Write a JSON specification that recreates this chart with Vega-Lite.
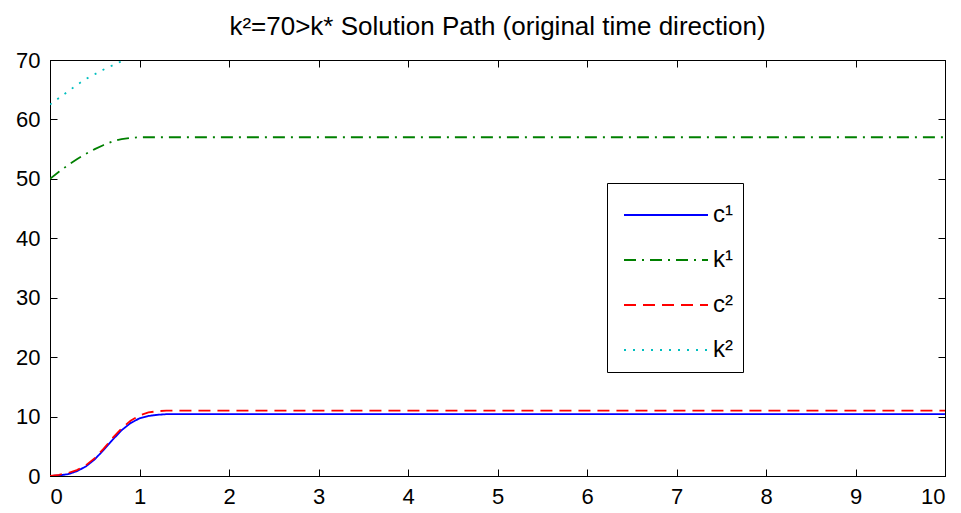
{
  "$schema": "https://vega.github.io/schema/vega-lite/v6.json",
  "width": 895,
  "height": 416,
  "autosize": "none",
  "padding": {"left": 50, "top": 60, "right": 16, "bottom": 37},
  "background": "white",
  "title": {
    "text": "k²=70>k* Solution Path (original time direction)",
    "font": "Liberation Sans",
    "fontSize": 26,
    "fontWeight": "normal",
    "color": "black",
    "anchor": "middle",
    "baseline": "alphabetic",
    "offset": -12
  },
  "data": {
    "values": [
      {"t": 0, "v": 0, "s": "c¹"},
      {"t": 0.1, "v": 0.1, "s": "c¹"},
      {"t": 0.2, "v": 0.3, "s": "c¹"},
      {"t": 0.3, "v": 0.8, "s": "c¹"},
      {"t": 0.4, "v": 1.6, "s": "c¹"},
      {"t": 0.5, "v": 2.8, "s": "c¹"},
      {"t": 0.6, "v": 4.4, "s": "c¹"},
      {"t": 0.7, "v": 6.1, "s": "c¹"},
      {"t": 0.8, "v": 7.7, "s": "c¹"},
      {"t": 0.9, "v": 8.9, "s": "c¹"},
      {"t": 1.0, "v": 9.7, "s": "c¹"},
      {"t": 1.1, "v": 10.1, "s": "c¹"},
      {"t": 1.2, "v": 10.3, "s": "c¹"},
      {"t": 1.3, "v": 10.4, "s": "c¹"},
      {"t": 10, "v": 10.4, "s": "c¹"},
      {"t": 0, "v": 50, "s": "k¹"},
      {"t": 0.1, "v": 51.2, "s": "k¹"},
      {"t": 0.2, "v": 52.3, "s": "k¹"},
      {"t": 0.3, "v": 53.3, "s": "k¹"},
      {"t": 0.4, "v": 54.2, "s": "k¹"},
      {"t": 0.5, "v": 55.0, "s": "k¹"},
      {"t": 0.6, "v": 55.7, "s": "k¹"},
      {"t": 0.7, "v": 56.3, "s": "k¹"},
      {"t": 0.8, "v": 56.7, "s": "k¹"},
      {"t": 0.9, "v": 56.9, "s": "k¹"},
      {"t": 1.0, "v": 57.0, "s": "k¹"},
      {"t": 10, "v": 57.0, "s": "k¹"},
      {"t": 0, "v": 0, "s": "c²"},
      {"t": 0.1, "v": 0.2, "s": "c²"},
      {"t": 0.2, "v": 0.5, "s": "c²"},
      {"t": 0.3, "v": 1.0, "s": "c²"},
      {"t": 0.4, "v": 1.8, "s": "c²"},
      {"t": 0.5, "v": 3.0, "s": "c²"},
      {"t": 0.6, "v": 4.6, "s": "c²"},
      {"t": 0.7, "v": 6.4, "s": "c²"},
      {"t": 0.8, "v": 8.0, "s": "c²"},
      {"t": 0.9, "v": 9.3, "s": "c²"},
      {"t": 1.0, "v": 10.2, "s": "c²"},
      {"t": 1.1, "v": 10.7, "s": "c²"},
      {"t": 1.2, "v": 10.9, "s": "c²"},
      {"t": 1.3, "v": 11.0, "s": "c²"},
      {"t": 10, "v": 11.0, "s": "c²"},
      {"t": 0, "v": 62.5, "s": "k²"},
      {"t": 0.1, "v": 63.6, "s": "k²"},
      {"t": 0.2, "v": 64.7, "s": "k²"},
      {"t": 0.3, "v": 65.8, "s": "k²"},
      {"t": 0.4, "v": 66.8, "s": "k²"},
      {"t": 0.5, "v": 67.6, "s": "k²"},
      {"t": 0.6, "v": 68.4, "s": "k²"},
      {"t": 0.7, "v": 69.1, "s": "k²"},
      {"t": 0.8, "v": 69.8, "s": "k²"},
      {"t": 0.9, "v": 70.4, "s": "k²"},
      {"t": 1.0, "v": 70.8, "s": "k²"},
      {"t": 10, "v": 71.0, "s": "k²"}
    ]
  },
  "layer": [
    {
      "mark": {"type": "line", "clip": true, "strokeWidth": 1.8},
      "encoding": {
        "x": {
          "field": "t", "type": "quantitative",
          "scale": {"domain": [0, 10], "nice": false},
          "axis": {"orient": "bottom", "values": [0,1,2,3,4,5,6,7,8,9,10], "title": null}
        },
        "y": {
          "field": "v", "type": "quantitative",
          "scale": {"domain": [0, 70], "nice": false, "zero": false},
          "axis": {"orient": "left", "values": [0,10,20,30,40,50,60,70], "title": null}
        },
        "color": {
          "field": "s", "type": "nominal",
          "scale": {"domain": ["c¹", "k¹", "c²", "k²"], "range": ["#0000ff", "#008000", "#ff0000", "#00bfbf"]},
          "legend": {"title": null}
        },
        "strokeDash": {
          "field": "s", "type": "nominal",
          "scale": {"domain": ["c¹", "k¹", "c²", "k²"], "range": [[1, 0], [12, 6, 2, 6], [12, 7], [2, 7]]},
          "legend": {"title": null}
        }
      }
    },
    {
      "mark": {"type": "line", "opacity": 0, "clip": true},
      "encoding": {
        "x": {
          "field": "t", "type": "quantitative",
          "axis": {"orient": "top", "values": [0,1,2,3,4,5,6,7,8,9,10], "labels": false, "labelPadding": 0, "title": null}
        },
        "y": {
          "field": "v", "type": "quantitative",
          "axis": {"orient": "right", "values": [0,10,20,30,40,50,60,70], "labels": false, "labelPadding": 0, "title": null}
        },
        "detail": {"field": "s"}
      }
    }
  ],
  "resolve": {"axis": {"x": "independent", "y": "independent"}},
  "config": {
    "view": {"stroke": "black", "strokeWidth": 1},
    "axis": {
      "grid": false,
      "domainColor": "black",
      "domainWidth": 1,
      "tickColor": "black",
      "tickWidth": 1,
      "tickSize": -7,
      "labelColor": "black",
      "labelFont": "Liberation Sans",
      "labelFontSize": 22,
      "labelPadding": 17
    },
    "legend": {
      "orient": "none",
      "legendX": 557,
      "legendY": 123,
      "strokeColor": "black",
      "fillColor": "white",
      "padding": 10,
      "symbolType": "M-1,0H3",
      "symbolSize": 1764,
      "symbolStrokeWidth": 1.8,
      "symbolOffset": 6,
      "labelOffset": 46,
      "labelFont": "Liberation Sans",
      "labelFontSize": 24,
      "labelColor": "black",
      "rowPadding": 11
    }
  }
}
